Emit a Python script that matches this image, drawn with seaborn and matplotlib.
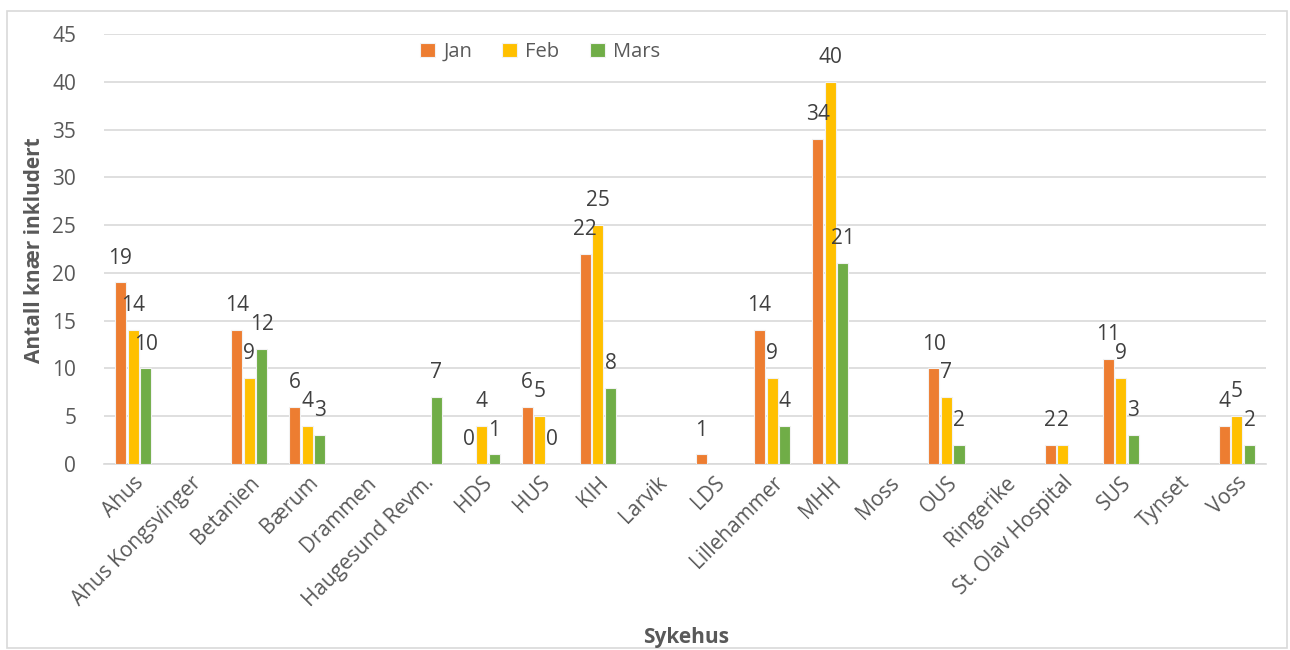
import numpy as np
import pandas as pd
import matplotlib
matplotlib.use("Agg")
import matplotlib.pyplot as plt
import seaborn as sns
from matplotlib.patches import Rectangle

categories = ["Ahus", "Ahus Kongsvinger", "Betanien", "Bærum", "Drammen",
              "Haugesund Revm.", "HDS", "HUS", "KIH", "Larvik", "LDS",
              "Lillehammer", "MHH", "Moss", "OUS", "Ringerike",
              "St. Olav Hospital", "SUS", "Tynset", "Voss"]
nan = np.nan
jan = [19, nan, 14, 6, nan, nan, 0, 6, 22, nan, 1, 14, 34, nan, 10, nan, 2, 11, nan, 4]
feb = [14, nan, 9, 4, nan, nan, 4, 5, 25, nan, nan, 9, 40, nan, 7, nan, 2, 9, nan, 5]
mars = [10, nan, 12, 3, nan, 7, 1, 0, 8, nan, nan, 4, 21, nan, 2, nan, nan, 3, nan, 2]
series = ["Jan", "Feb", "Mars"]
colors = ["#ED7D31", "#FFC000", "#70AD47"]
yticks = [0, 5, 10, 15, 20, 25, 30, 35, 40, 45]

rows = []
for name, vals in zip(series, [jan, feb, mars]):
    for c, v in zip(categories, vals):
        if not np.isnan(v):
            rows.append({"Sykehus": c, "Serie": name, "Verdi": v})
df = pd.DataFrame(rows)

sns.set_theme(style="white")
plt.rcParams["font.family"] = ["Open Sans", "DejaVu Sans"]
txt = "#595959"

fig = plt.figure(figsize=(12.9, 6.5), dpi=100)
ax = fig.add_axes([104/1290, 1-464/650, (1266-104)/1290, (464-34)/650])

sns.barplot(data=df, x="Sykehus", y="Verdi", hue="Serie", order=categories,
            hue_order=series, palette=colors, saturation=1, width=0.65, gap=0.12,
            errorbar=None, edgecolor="#F2F2F2", linewidth=0.8, ax=ax, zorder=3)

for cont in ax.containers:
    ax.bar_label(cont, labels=[f"{int(b.get_height())}" for b in cont],
                 padding=10, fontsize=15, color="#404040", zorder=4)

ax.set_ylim(0, 45)
ax.set_yticks(yticks)
ax.set_xlim(-0.5, len(categories) - 0.5)
ax.yaxis.grid(True, color="#D9D9D9", linewidth=1.2, zorder=0)
ax.set_axisbelow(True)
for s in ["top", "right", "left"]:
    ax.spines[s].set_visible(False)
ax.spines["bottom"].set_color("#D9D9D9")
ax.spines["bottom"].set_linewidth(1.2)
ax.tick_params(axis="both", length=0, colors=txt, labelsize=15)
ax.tick_params(axis="y", pad=20)
plt.setp(ax.get_xticklabels(), rotation=45, ha="right", rotation_mode="anchor")
ax.tick_params(axis="x", pad=6)

ax.set_xlabel("")
ax.set_ylabel("")
fig.text(686/1290, 1-637/650, "Sykehus", fontsize=15, fontweight="bold", color=txt,
         ha="center", va="center")
fig.text(35/1290, 1-250/650, "Antall knær inkludert", fontsize=15, fontweight="bold",
         color=txt, ha="center", va="center", rotation=90)

leg = ax.legend(loc="center", bbox_to_anchor=((540-104)/(1266-104), 1-(52-34)/(464-34)),
                ncol=3, frameon=False, fontsize=14.5, handlelength=0.75, handleheight=0.75,
                columnspacing=1.5, handletextpad=0.4)
for t in leg.get_texts():
    t.set_color(txt)

fig.patches.append(Rectangle((7/1290, 2/650), 1280/1290, 637/650, transform=fig.transFigure,
                             fill=False, edgecolor="#D9D9D9", linewidth=1.2))

fig.savefig("out.png", dpi=100)
